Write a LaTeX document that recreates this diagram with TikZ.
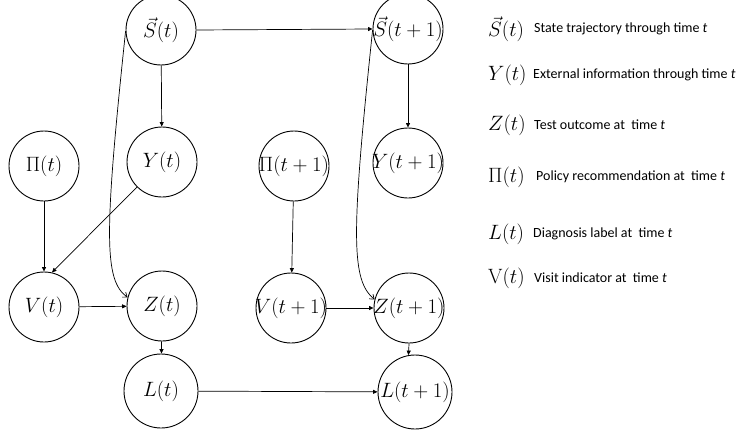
\documentclass[tikz,border=0pt]{standalone}
\usepackage[no-math]{fontspec}
\newfontfamily\desc{Carlito}
\usetikzlibrary{arrows.meta}
\newcommand\vlab[1]{\makebox[0pt]{$#1$}}
\begin{document}
\begin{tikzpicture}[x=1pt,y=-1pt,
  var/.style={circle,draw,line width=0.9pt,minimum size=70pt,inner sep=0pt,font=\fontsize{21}{22}\selectfont},
  arr/.style={line width=0.7pt,-{Triangle[length=4.5pt,width=4pt]}},
  carr/.style={line width=0.7pt,-{Straight Barb[length=4pt,width=6pt]}},
  sym/.style={anchor=west,inner sep=0pt,font=\fontsize{22}{23}\selectfont},
  txt/.style={anchor=west,inner sep=0pt,font=\desc\fontsize{14}{16}\selectfont}]
\useasboundingbox (0,0) rectangle (743,433);
% nodes, time t
\node[var] (S) at (161,30) {\vlab{\vec{S}(t)}};
\node[var] (Y) at (162,162) {\vlab{Y(t)}};
\node[var] (P) at (44,166) {\vlab{\Pi(t)}};
\node[var] (V) at (44,307) {\vlab{V(t)}};
\node[var] (Z) at (162,306) {\vlab{Z(t)}};
\node[var,minimum size=74pt] (L) at (161,391) {\vlab{L(t)}};
% nodes, time t+1
\node[var] (S1) at (408,29) {\vlab{\vec{S}(t+1)}};
\node[var] (Y1) at (408,163) {\vlab{Y(t+1)}};
\node[var] (P1) at (294,166) {\vlab{\Pi(t+1)}};
\node[var] (V1) at (291,308) {\vlab{V(t+1)}};
\node[var] (Z1) at (409,308) {\vlab{Z(t+1)}};
\node[var,minimum size=74pt] (L1) at (415,392) {\vlab{L(t+1)}};
% edges
\draw[arr] (S.east) -- (S1.west);
\draw[arr] (S) -- (Y);
\draw[arr] (P) -- (V);
\draw[arr] (Y.225) -- (V.77);
\draw[carr] (S.182) .. controls (104,235) and (104,280) .. (Z.166);
\draw[arr] (V) -- (Z);
\draw[arr] (Z) -- (L);
\draw[arr] (L) -- (L1);
\draw[arr] (S1) -- (Y1);
\draw[arr] (P1) -- (V1);
\draw[carr] (S1.182) .. controls (351,235) and (351,280) .. (Z1.166);
\draw[arr] (V1) -- (Z1);
\draw[arr] (Z1.south) -- (L1.100);
% legend
\node[sym] (k1) at (488,29) {$\vec{S}(t)$};
\node[sym] (k2) at (488,75) {$Y(t)$};
\node[sym] (k3) at (488,125) {$Z(t)$};
\node[sym] (k4) at (488,177) {$\Pi(t)$};
\node[sym] (k5) at (488,234) {$L(t)$};
\node[sym] (k6) at (488,278) {$\mathrm{V}(t)$};
\node[txt] (d1) at (534,29 |- k1.east) {State trajectory through time {\itshape t}};
\node[txt] (d2) at (533,75 |- k2.east) {External information through time {\itshape t}};
\node[txt] (d3) at (534,125 |- k3.east) {Test outcome at~ time {\itshape t}};
\node[txt] (d4) at (536,177 |- k4.east) {Policy recommendation at~ time {\itshape t}};
\node[txt] (d5) at (533,234 |- k5.east) {Diagnosis label at~ time {\itshape t}};
\node[txt] (d6) at (534,278 |- k6.east) {Visit indicator at~ time {\itshape t}};
\end{tikzpicture}
\end{document}
